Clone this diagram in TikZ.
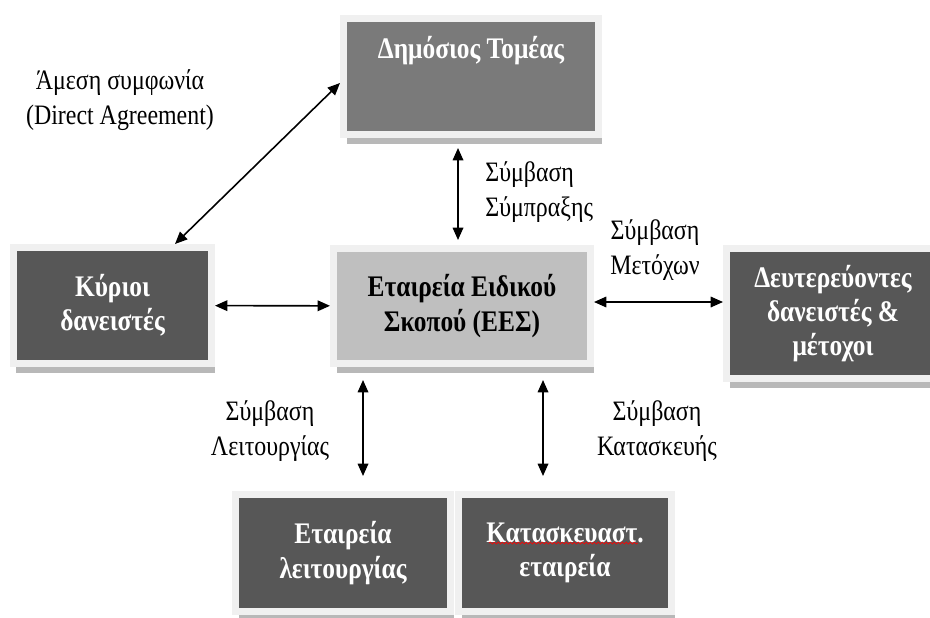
\documentclass[tikz,border=0pt]{standalone}
\usepackage{fontspec}
\setmainfont{Liberation Serif}[FakeStretch=0.85]
\usepackage{tikz}
\usetikzlibrary{arrows.meta}
\usetikzlibrary{shadows}
\usetikzlibrary{decorations.pathmorphing}
\pgfdeclarelayer{nodelayer}
\pgfdeclarelayer{edgelayer}
\pgfsetlayers{edgelayer,nodelayer,main}
\definecolor{framegrey}{HTML}{F0F0F0}
\definecolor{shadegrey}{HTML}{B8B8B8}
\definecolor{topgrey}{HTML}{7A7A7A}
\definecolor{darkgrey}{HTML}{575757}
\definecolor{lightgrey}{HTML}{BFBFBF}
\tikzset{box/.style={draw=framegrey, line width=0.14cm, inner sep=0pt, align=center,
font=\fontsize{17}{19.5}\selectfont\bfseries,
drop shadow={shadow xshift=0.06cm, shadow yshift=-0.19cm, fill=shadegrey, opacity=1}}}
\tikzstyle{darkbox}=[box, fill=darkgrey, text=white]
\tikzstyle{topbox}=[box, fill=topgrey, text=white]
\tikzstyle{mainbox}=[box, fill=lightgrey, text=black]
\tikzstyle{none}=[inner sep=0pt, align=center, font=\fontsize{16}{19.5}\selectfont]
\tikzset{conn/.style={{Triangle[length=7pt,width=6pt]}-{Triangle[length=7pt,width=6pt]}, line width=0.9pt}}

\begin{document}
\begin{tikzpicture}
        \useasboundingbox (0, 0) rectangle (18.6, 12.34);
        \begin{pgfonlayer}{nodelayer}
            \node [style=topbox, minimum width=5.1cm, minimum height=2.32cm, text height=12pt, text depth=33pt] (0) at (9.42, 10.81) {Δημόσιος Τομέας};
            \node [style=darkbox, minimum width=3.96cm, minimum height=2.32cm] (1) at (2.25, 6.23) {Κύριοι\\δανειστές};
            \node [style=mainbox, minimum width=5.14cm, minimum height=2.3cm] (2) at (9.24, 6.22) {Εταιρεία Ειδικού\\Σκοπού (ΕΕΣ)};
            \node [style=darkbox, minimum width=4.26cm, minimum height=2.6cm] (3) at (16.66, 6.07) {Δευτερεύοντες\\δανειστές \&\\μέτοχοι};
            \node [style=darkbox, minimum width=4.3cm, minimum height=2.34cm] (4) at (6.86, 1.28) {Εταιρεία\\λειτουργίας};
            \node [style=darkbox, minimum width=4.26cm, minimum height=2.34cm] (5) at (11.3, 1.28) {Κατασκευαστ.\\εταιρεία};
            \node [style=none] (6) at (2.4, 10.34) {Άμεση συμφωνία\\(Direct Agreement)};
            \node [style=none, align=left, anchor=west] (7) at (9.7, 8.5) {Σύμβαση\\Σύμπραξης};
            \node [style=none] (8) at (13.1, 7.34) {Σύμβαση\\Μετόχων};
            \node [style=none] (9) at (5.4, 3.72) {Σύμβαση\\Λειτουργίας};
            \node [style=none] (10) at (13.14, 3.72) {Σύμβαση\\Κατασκευής};
        \end{pgfonlayer}
        \begin{pgfonlayer}{edgelayer}
            \draw [conn] ([xshift=1.25cm]1.north) to ([yshift=-0.13cm]0.west);
            \draw [conn] (1) to (2);
            \draw [conn, shorten <=0.2cm, shorten >=0.1cm] ([xshift=-0.26cm]0.south) to ([xshift=-0.08cm]2.north);
            \draw [conn] ([yshift=0.08cm]2.east) to ([yshift=0.08cm]2.east -| 3.west);
            \draw [conn, shorten <=0.26cm, shorten >=0.3cm] ([xshift=-1.98cm]2.south) to ([xshift=-1.98cm]2.south |- 4.north);
            \draw [conn, shorten <=0.26cm, shorten >=0.3cm] ([xshift=1.62cm]2.south) to ([xshift=1.62cm]2.south |- 5.north);
        \end{pgfonlayer}
        \draw [red, line width=0.4pt, decorate, decoration={snake, amplitude=0.02cm, segment length=0.08cm}] ([xshift=-1.52cm, yshift=0.2cm]5.center) to ([xshift=1.46cm, yshift=0.2cm]5.center);
    \end{tikzpicture}
\end{document}
